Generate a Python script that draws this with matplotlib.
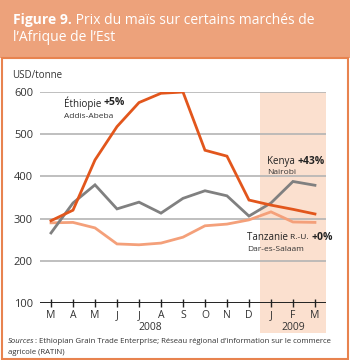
import matplotlib.pyplot as plt
from matplotlib.patches import Rectangle

plt.rcParams['font.family'] = ['Open Sans', 'DejaVu Sans']

# --- données (USD/tonne) ---
mois = ['M', 'A', 'M', 'J', 'J', 'A', 'S', 'O', 'N', 'D', 'J', 'F', 'M']
ethiopie = [295, 320, 439, 518, 575, 597, 600, 462, 448, 344, 332, 322, 311]
kenya = [266, 337, 380, 323, 339, 313, 348, 366, 354, 306, 337, 388, 379]
tanzanie = [290, 291, 278, 240, 238, 242, 256, 283, 287, 297, 316, 292, 291]
y_ticks = [100, 200, 300, 400, 500, 600]

c_eth = '#e2561c'
c_ken = '#808080'
c_tan = '#f4a07a'
c_band = '#eda27b'
c_frame = '#e8834f'
c_shade = '#fbe0cf'

fig = plt.figure(figsize=(3.5, 3.6), dpi=100)
renderer = fig.canvas.get_renderer()


def suite(prev, texte, **kw):
    # place un texte juste après le précédent (même ligne)
    bb = prev.get_window_extent(renderer)
    x0, y0 = prev.get_position()
    tr = prev.get_transform()
    _, y_px = tr.transform((x0, y0))
    xd, yd = tr.inverted().transform((bb.x1, y_px))
    parent = prev.axes if prev.axes else fig
    return parent.text(xd, yd, texte, transform=tr, va=prev.get_va(), **kw)


# bandeau du titre et cadre
fig.patches.append(Rectangle((0, 0.838), 1, 0.162, transform=fig.transFigure,
                             facecolor=c_band, edgecolor='none', zorder=-2))
fig.patches.append(Rectangle((0.006, 0.004), 0.988, 0.834, transform=fig.transFigure,
                             facecolor='none', edgecolor=c_frame, linewidth=1.5, zorder=-1))
t = fig.text(0.037, 0.933, 'Figure 9.', color='white', fontsize=10, fontweight='bold',
             va='baseline')
suite(t, ' Prix du maïs sur certains marchés de', color='white', fontsize=10)
fig.text(0.037, 0.887, 'l’Afrique de l’Est', color='white', fontsize=10, va='baseline')

ax = fig.add_axes([0.1143, 0.1583, 0.817, 0.5861])
x = list(range(len(mois)))

ax.axvspan(9.5, 12.5, ymin=-0.142, ymax=1, color=c_shade, lw=0, clip_on=False, zorder=0)
for v in y_ticks[1:]:
    ax.axhline(v, color='#b4b4b4', lw=1.2, zorder=1)
ax.axhline(100, color='#222222', lw=1.4, zorder=3)

ax.plot(x, tanzanie, color=c_tan, lw=2, zorder=4, solid_joinstyle='miter')
ax.plot(x, kenya, color=c_ken, lw=2, zorder=5, solid_joinstyle='miter')
ax.plot(x, ethiopie, color=c_eth, lw=2, zorder=6, solid_joinstyle='miter')

ax.set_xlim(-0.5, 12.5)
ax.set_ylim(100, 600)
ax.set_yticks(y_ticks)
ax.set_xticks(x)
ax.set_xticklabels(mois)
for s in ax.spines.values():
    s.set_visible(False)
ax.tick_params(axis='y', length=0, labelsize=8, colors='#333333', pad=5)
ax.tick_params(axis='x', direction='inout', length=6, width=1, color='#222222',
               labelsize=7.5, labelcolor='#333333', pad=2)
ax.patch.set_alpha(0)

ax.text(-1.77, 640, 'USD/tonne', fontsize=7, color='#333333', ha='left', va='center')
ax.text(4.5, 42, '2008', fontsize=7.5, color='#333333', ha='center', va='center')
ax.text(11, 42, '2009', fontsize=7.5, color='#333333', ha='center', va='center')

# étiquettes des séries
t = ax.text(0.59, 574, 'Éthiopie ', fontsize=7, color='#222222', va='center')
suite(t, '+5%', fontsize=7.5, color='#222222', fontweight='bold')
ax.text(0.59, 543, 'Addis-Abeba', fontsize=6, color='#333333', va='center')

t = ax.text(9.82, 436, 'Kenya ', fontsize=7, color='#222222', va='center')
suite(t, '+43%', fontsize=7.5, color='#222222', fontweight='bold')
ax.text(9.82, 410, 'Nairobi', fontsize=6, color='#333333', va='center')

t = ax.text(8.9, 256, 'Tanzanie ', fontsize=7, color='#222222', va='center')
t = suite(t, 'R.-U. ', fontsize=6, color='#222222')
suite(t, '+0%', fontsize=7.5, color='#222222', fontweight='bold')
ax.text(8.9, 226, 'Dar-es-Salaam', fontsize=6, color='#333333', va='center')

t = fig.text(0.023, 0.052, 'Sources', fontsize=5.6, color='#333333', va='center',
             style='italic')
suite(t, ': Ethiopian Grain Trade Enterprise; Réseau régional d’information sur le commerce',
      fontsize=5.6, color='#333333')
fig.text(0.023, 0.02, 'agricole (RATIN)', fontsize=5.6, color='#333333', va='center')

fig.savefig('out.png', dpi=100)
